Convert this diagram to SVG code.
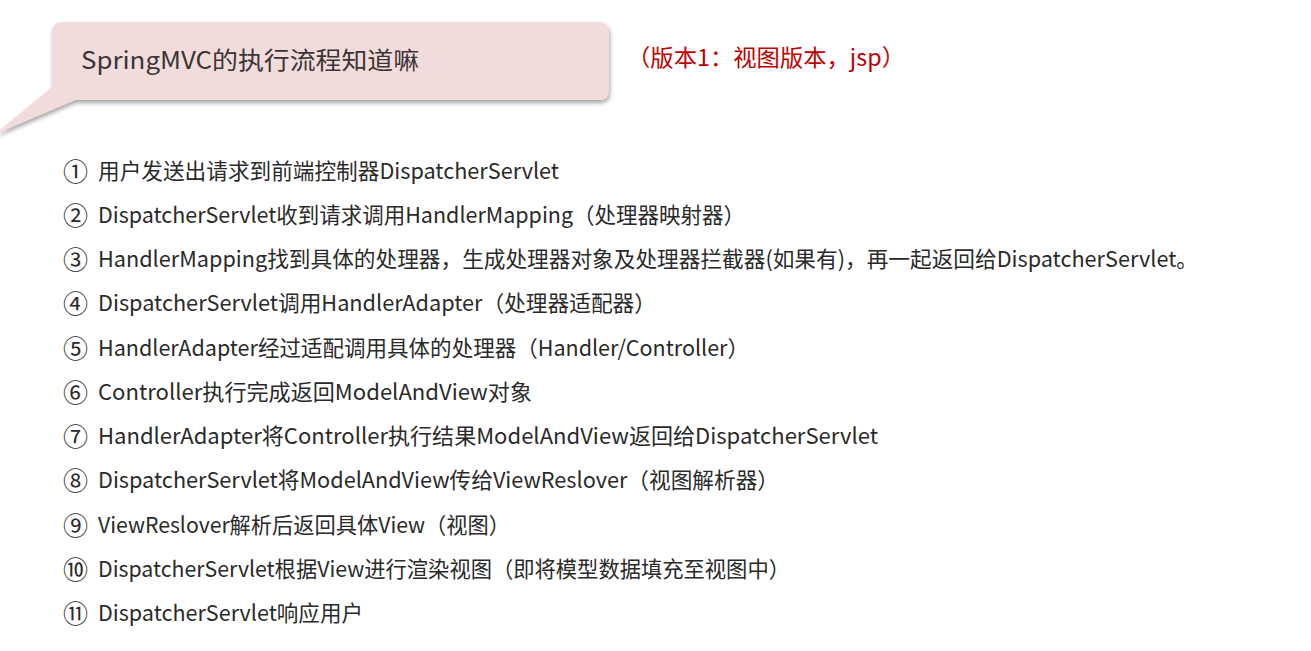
<svg xmlns="http://www.w3.org/2000/svg" width="1311" height="651" viewBox="0 0 1311 651">
<style>
.t{font-family:"Noto Sans CJK SC","Microsoft YaHei",sans-serif;font-size:22px;fill:#2a2a2a}
.n{font-family:"Noto Sans CJK SC",sans-serif;font-size:25px;fill:#2a2a2a}
.title{font-family:"Noto Sans CJK SC",sans-serif;font-size:24px;fill:#3a3536}
.red{font-family:"Noto Sans CJK SC",sans-serif;font-size:23px;fill:#c00000}
</style>
<defs>
<filter id="sh" x="-5%" y="-20%" width="110%" height="150%">
<feDropShadow dx="1" dy="3" stdDeviation="2" flood-color="#000" flood-opacity="0.35"/>
</filter>
</defs>
<rect width="1311" height="651" fill="#ffffff"/>
<g id="bubble">
<path d="M-5,134 L52,87 L52,32 Q52,22 62,22 L599,22 Q609,22 609,32 L609,90 Q609,100 599,100 L75,100 Z" fill="#f2dcdb" filter="url(#sh)"/>
<text class="title" x="81" y="69" textLength="338" lengthAdjust="spacingAndGlyphs">SpringMVC的执行流程知道嘛</text>
</g>
<g id="version">
<text class="red" x="627" y="66" textLength="278" lengthAdjust="spacingAndGlyphs">（版本1：视图版本，jsp）</text>
</g>
<g id="steps">
<g id="s1"><text class="n" x="63" y="181">①</text><text class="t" x="98" y="179" textLength="461" lengthAdjust="spacingAndGlyphs">用户发送出请求到前端控制器DispatcherServlet</text></g>
<g id="s2"><text class="n" x="63" y="225">②</text><text class="t" x="98" y="223" textLength="647" lengthAdjust="spacingAndGlyphs">DispatcherServlet收到请求调用HandlerMapping（处理器映射器）</text></g>
<g id="s3"><text class="n" x="63" y="269">③</text><text class="t" x="98" y="267" textLength="1100" lengthAdjust="spacingAndGlyphs">HandlerMapping找到具体的处理器，生成处理器对象及处理器拦截器(如果有)，再一起返回给DispatcherServlet。</text></g>
<g id="s4"><text class="n" x="63" y="313">④</text><text class="t" x="98" y="311" textLength="558" lengthAdjust="spacingAndGlyphs">DispatcherServlet调用HandlerAdapter（处理器适配器）</text></g>
<g id="s5"><text class="n" x="63" y="358">⑤</text><text class="t" x="98" y="356" textLength="651" lengthAdjust="spacingAndGlyphs">HandlerAdapter经过适配调用具体的处理器（Handler/Controller）</text></g>
<g id="s6"><text class="n" x="63" y="402">⑥</text><text class="t" x="98" y="400" textLength="434" lengthAdjust="spacingAndGlyphs">Controller执行完成返回ModelAndView对象</text></g>
<g id="s7"><text class="n" x="63" y="446">⑦</text><text class="t" x="98" y="444" textLength="780" lengthAdjust="spacingAndGlyphs">HandlerAdapter将Controller执行结果ModelAndView返回给DispatcherServlet</text></g>
<g id="s8"><text class="n" x="63" y="490">⑧</text><text class="t" x="98" y="488" textLength="681" lengthAdjust="spacingAndGlyphs">DispatcherServlet将ModelAndView传给ViewReslover（视图解析器）</text></g>
<g id="s9"><text class="n" x="63" y="535">⑨</text><text class="t" x="98" y="533" textLength="412" lengthAdjust="spacingAndGlyphs">ViewReslover解析后返回具体View（视图）</text></g>
<g id="s10"><text class="n" x="63" y="579">⑩</text><text class="t" x="98" y="577" textLength="692" lengthAdjust="spacingAndGlyphs">DispatcherServlet根据View进行渲染视图（即将模型数据填充至视图中）</text></g>
<g id="s11"><text class="n" x="63" y="623">⑪</text><text class="t" x="98" y="621" textLength="265" lengthAdjust="spacingAndGlyphs">DispatcherServlet响应用户</text></g>
</g>
</svg>
